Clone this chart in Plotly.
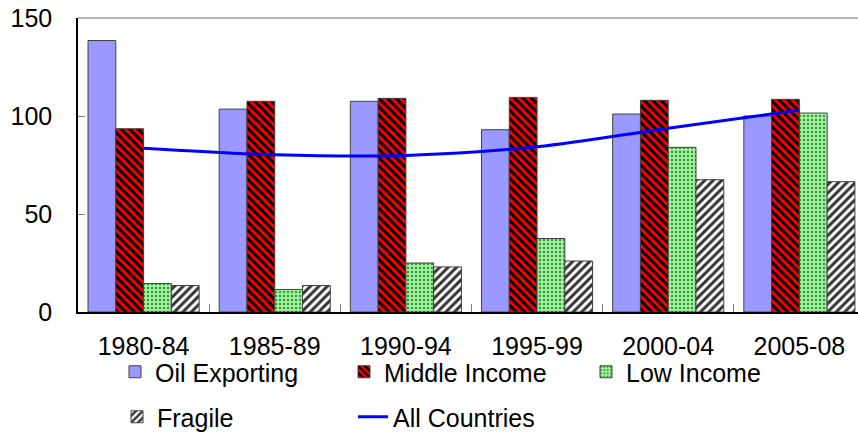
import plotly.graph_objects as go

# Five-year periods and index values per country group
periods = ["1980-84", "1985-89", "1990-94", "1995-99", "2000-04", "2005-08"]
oil_exporting = [138.5, 103.5, 107.5, 93.0, 101.0, 100.0]
middle_income = [93.5, 107.5, 109.0, 109.5, 108.0, 108.5]
low_income = [14.5, 11.5, 25.0, 37.5, 84.0, 101.5]
fragile = [13.5, 13.5, 23.0, 26.0, 67.5, 66.5]
all_countries = [83.5, 80.2, 79.9, 84.3, 93.8, 103.0]
y_ticks = [0, 50, 100, 150]

FONT = "Liberation Sans, Arial, sans-serif"
FS = 25
W, H = 858, 436
M_L, M_T, M_R, M_B = 78, 18, 0, 124
plot_w = W - M_L - M_R
plot_h = H - M_T - M_B

def px_x(px):
    return (px - M_L) / plot_w

def px_y(py):
    return (H - M_B - py) / plot_h

outline = dict(color="#404040", width=1)

fig = go.Figure()
fig.add_trace(go.Bar(
    x=periods, y=oil_exporting, name="Oil Exporting", legend="legend",
    marker=dict(color="#9999FF", line=outline),
))
fig.add_trace(go.Bar(
    x=periods, y=middle_income, name="Middle Income", legend="legend2",
    marker=dict(color="#FF0000", line=outline,
                pattern=dict(shape="\\", bgcolor="#FF0000", fgcolor="#000000",
                             size=6, solidity=0.5, fillmode="replace")),
))
fig.add_trace(go.Bar(
    x=periods, y=low_income, name="Low Income", legend="legend3",
    marker=dict(color="#99EE99", line=outline,
                pattern=dict(shape=".", bgcolor="#A6F0A6", fgcolor="#2E9E2E",
                             size=4, solidity=0.3, fillmode="replace")),
))
fig.add_trace(go.Bar(
    x=periods, y=fragile, name="Fragile", legend="legend4",
    marker=dict(color="#FFFFFF", line=outline,
                pattern=dict(shape="/", bgcolor="#FFFFFF", fgcolor="#333333",
                             size=6, solidity=0.5, fillmode="replace")),
))
fig.add_trace(go.Scatter(
    x=periods, y=all_countries, name="All Countries", legend="legend5",
    mode="lines", line=dict(color="#0000FF", width=3, shape="spline"),
))

def legend_at(px, py):
    return dict(x=px_x(px), y=px_y(py), xanchor="left", yanchor="middle",
                orientation="h", bgcolor="rgba(0,0,0,0)", borderwidth=0,
                font=dict(family=FONT, size=FS, color="#000000"))

fig.update_layout(
    width=W, height=H,
    margin=dict(l=M_L, r=M_R, t=M_T, b=M_B, pad=0, autoexpand=False),
    paper_bgcolor="white", plot_bgcolor="white",
    barmode="group", bargap=0.153, bargroupgap=0,
    font=dict(family=FONT, size=FS, color="#000000"),
    showlegend=True,
    legend=legend_at(115, 372),
    legend2=legend_at(344, 372),
    legend3=legend_at(586, 372),
    legend4=legend_at(117, 417),
    legend5=legend_at(353, 417),
    xaxis=dict(
        type="category", range=[-0.5, 5.447],
        showline=True, linecolor="#000000", linewidth=1.5,
        ticks="inside", tickson="boundaries", ticklen=8,
        tickcolor="#808080", tickwidth=1,
        showgrid=False, zeroline=False,
        tickfont=dict(family=FONT, size=FS),
        ticklabelstandoff=11,
    ),
    yaxis=dict(
        range=[0, 150], tickvals=y_ticks,
        showline=True, linecolor="#000000", linewidth=1.5,
        ticks="inside", ticklen=7, tickcolor="#808080", tickwidth=1,
        showgrid=False, zeroline=False,
        tickfont=dict(family=FONT, size=FS),
        ticklabelstandoff=19,
    ),
    shapes=[dict(type="line", xref="paper", yref="paper",
                 x0=0, x1=1, y0=1, y1=1,
                 line=dict(color="#A0A0A0", width=1.5))],
)

fig.write_html("out.html")
